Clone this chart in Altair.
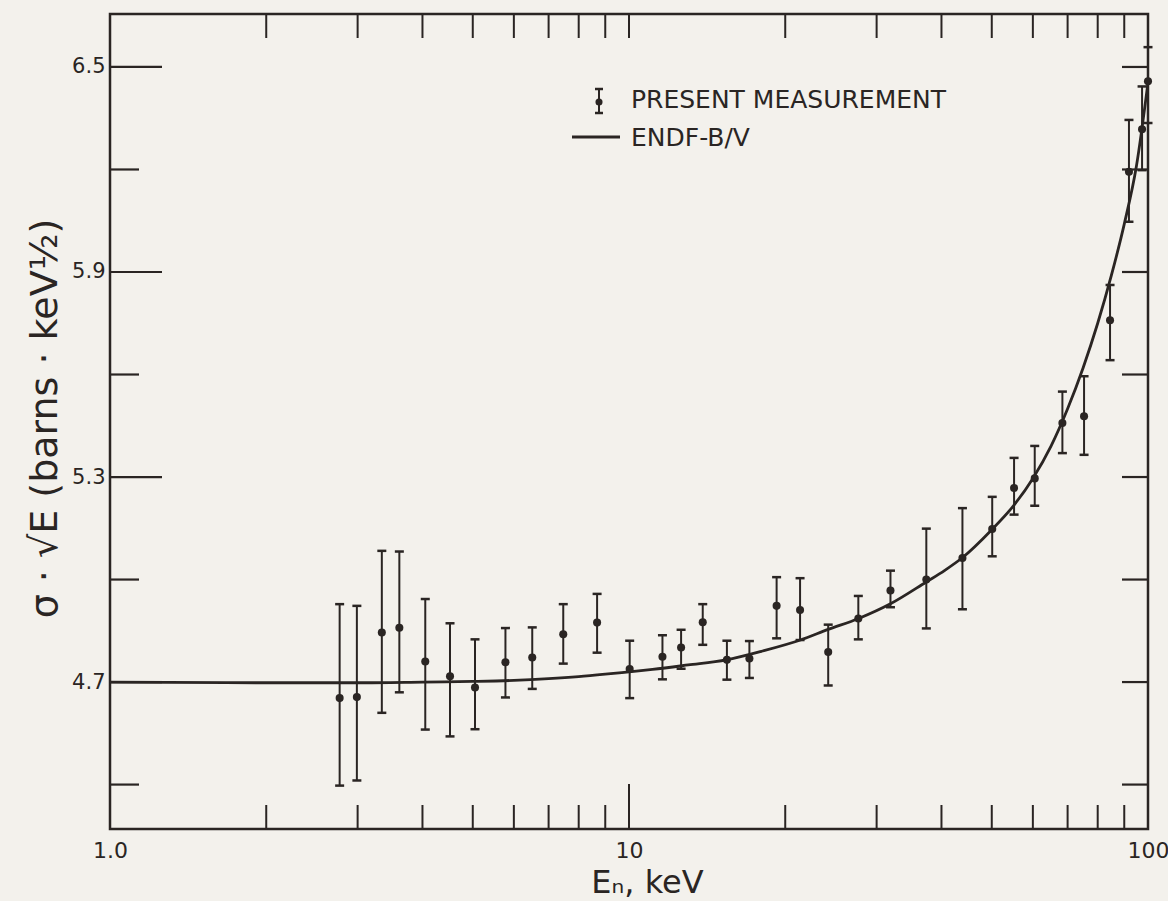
import altair as alt
import pandas as pd

# ---------------- data ----------------
meas_E = [2.77, 2.99, 3.34, 3.61, 4.05, 4.52, 5.05, 5.78, 6.51, 7.47, 8.68, 10.03,
          11.6, 12.6, 13.87, 15.44, 17.06, 19.25, 21.36, 24.2, 27.66, 31.9, 37.4,
          43.9, 50.1, 55.2, 60.5, 68.4, 75.3, 84.5, 91.9, 97.4, 100]
meas_v = [4.653, 4.656, 4.845, 4.859, 4.760, 4.717, 4.684, 4.758, 4.772, 4.840, 4.874, 4.738,
          4.774, 4.801, 4.875, 4.765, 4.769, 4.923, 4.911, 4.788, 4.886, 4.968, 5.000,
          5.063, 5.148, 5.268, 5.296, 5.458, 5.478, 5.759, 6.193, 6.318, 6.458]
meas_lo = [4.397, 4.412, 4.610, 4.670, 4.561, 4.541, 4.562, 4.655, 4.680, 4.754, 4.786, 4.653,
           4.708, 4.739, 4.809, 4.707, 4.712, 4.828, 4.823, 4.690, 4.825, 4.919, 4.857,
           4.913, 5.068, 5.190, 5.216, 5.370, 5.365, 5.642, 6.047, 6.198, 6.336]
meas_hi = [4.928, 4.923, 5.084, 5.082, 4.943, 4.872, 4.825, 4.858, 4.860, 4.928, 4.958, 4.821,
           4.837, 4.853, 4.928, 4.821, 4.820, 5.007, 5.004, 4.868, 4.952, 5.026, 5.149,
           5.209, 5.242, 5.356, 5.391, 5.550, 5.595, 5.862, 6.345, 6.443, 6.558]

endf_E = [1, 2, 3, 4, 5, 6, 7, 8, 9, 10, 11.1, 13, 15.4, 18, 21.4, 24.2, 27.7, 31.9,
          37.4, 40.6, 43.8, 50, 55, 60, 65, 70, 75, 80, 85, 90, 95, 100]
endf_v = [4.700, 4.698, 4.698, 4.700, 4.702, 4.705, 4.710, 4.716, 4.723, 4.730, 4.737, 4.750,
          4.765, 4.790, 4.823, 4.854, 4.886, 4.929, 4.993, 5.027, 5.063, 5.146, 5.215,
          5.296, 5.390, 5.500, 5.620, 5.750, 5.890, 6.040, 6.210, 6.455]

x_label_vals = [1, 10, 100]
x_minor_ticks = [2, 3, 4, 5, 6, 7, 8, 9, 20, 30, 40, 50, 60, 70, 80, 90]
x_top_ticks = [2, 3, 4, 5, 6, 7, 8, 9, 10, 20, 30, 40, 50, 60, 70, 80, 90]
x_major_ticks = [10]
y_label_vals = [4.7, 5.3, 5.9, 6.5]
y_minor_ticks = [4.4, 5.0, 5.6, 6.2]
y_all_ticks = [4.4, 4.7, 5.0, 5.3, 5.6, 5.9, 6.2, 6.5]

legend_labels = ["PRESENT MEASUREMENT", "ENDF-B/V"]
x_title = "Eₙ, keV"
y_title = "σ · √E (barns · keV½)"

# ---------------- style ----------------
W, H = 1038, 815
INK = "#2a2523"
BG = "#f3f1ec"
FONT = "DejaVu Sans"

xscale = alt.Scale(type="log", domain=[1, 100], nice=False)
yscale = alt.Scale(domain=[4.27, 6.655], nice=False, zero=False)

meas = pd.DataFrame({"E": meas_E, "v": meas_v, "lo": meas_lo, "hi": meas_hi})
endf = pd.DataFrame({"E": endf_E, "v": endf_v})

x_axis = alt.Axis(values=x_label_vals, labelExpr="datum.value < 2 ? '1.0' : format(datum.value, 'd')",
                  ticks=False, domain=False, grid=False, labelFontSize=22, labelPadding=11,
                  labelColor=INK, labelFont=FONT, labelFlush=False, labelOverlap=False,
                  title=x_title, titleFontSize=32, titleFont=FONT, titleFontWeight="normal",
                  titleColor=INK, titleX=537, titleY=63, titleAlign="center",
                  titleBaseline="alphabetic")
y_axis = alt.Axis(values=y_label_vals, format=".1f", ticks=False, domain=False, grid=False,
                  labelFontSize=21, labelPadding=5, labelColor=INK, labelFont=FONT,
                  title=y_title, titleFontSize=38, titleFont=FONT, titleFontWeight="normal",
                  titleColor=INK, titleX=-54, titleY=404, titleAlign="center",
                  titleAngle=270, titleBaseline="alphabetic")

X = lambda f: alt.X(f, scale=xscale, axis=x_axis)
Y = lambda f: alt.Y(f, scale=yscale, axis=y_axis)

curve = alt.Chart(endf).mark_line(color=INK, strokeWidth=2.8, interpolate="monotone").encode(
    x=X("E:Q"), y=Y("v:Q"))

bars = alt.Chart(meas).mark_rule(color=INK, strokeWidth=2, opacity=1).encode(
    x=X("E:Q"), y=Y("lo:Q"), y2="hi:Q")
cap_lo = alt.Chart(meas).mark_tick(color=INK, orient="horizontal", size=9, thickness=2.5,
                                   opacity=1).encode(x=X("E:Q"), y=Y("lo:Q"))
cap_hi = alt.Chart(meas).mark_tick(color=INK, orient="horizontal", size=9, thickness=2.5,
                                   opacity=1).encode(x=X("E:Q"), y=Y("hi:Q"))
pts = alt.Chart(meas).mark_point(color=INK, filled=True, shape="circle", size=65,
                                 opacity=1).encode(x=X("E:Q"), y=Y("v:Q"))

# frame ticks (inward)
def xticks(vals, y0, y1):
    return alt.Chart(pd.DataFrame({"E": vals})).mark_rule(color=INK, strokeWidth=2).encode(
        x=X("E:Q"), y=alt.value(y0), y2=alt.value(y1))

def yticks(vals, x0, x1):
    return alt.Chart(pd.DataFrame({"v": vals})).mark_rule(color=INK, strokeWidth=2.2).encode(
        y=Y("v:Q"), x=alt.value(x0), x2=alt.value(x1))

tick_layers = [
    xticks(x_minor_ticks, H, H - 24),
    xticks(x_major_ticks, H, H - 45),
    xticks(x_top_ticks, 0, 24),
    yticks(y_label_vals, 0, 52),
    yticks(y_minor_ticks, 0, 29),
    yticks(y_all_ticks, W, W - 26),
]

# legend
one = pd.DataFrame({"k": [0]})
leg_text1 = alt.Chart(one).mark_text(align="left", baseline="middle", fontSize=25, font=FONT,
                                     color=INK).encode(
    x=alt.value(521), y=alt.value(86), text=alt.value(legend_labels[0]))
leg_text2 = alt.Chart(one).mark_text(align="left", baseline="middle", fontSize=25, font=FONT,
                                     color=INK).encode(
    x=alt.value(521), y=alt.value(124), text=alt.value(legend_labels[1]))
leg_bar = alt.Chart(one).mark_rule(color=INK, strokeWidth=2).encode(
    x=alt.value(489), y=alt.value(75), y2=alt.value(99))
leg_cap1 = alt.Chart(one).mark_rule(color=INK, strokeWidth=2.5).encode(
    x=alt.value(485), x2=alt.value(493), y=alt.value(75))
leg_cap2 = alt.Chart(one).mark_rule(color=INK, strokeWidth=2.5).encode(
    x=alt.value(485), x2=alt.value(493), y=alt.value(99))
leg_pt = alt.Chart(one).mark_point(color=INK, filled=True, shape="circle", size=50, opacity=1).encode(
    x=alt.value(489), y=alt.value(88))
leg_line = alt.Chart(one).mark_rule(color=INK, strokeWidth=2.8).encode(
    x=alt.value(462), x2=alt.value(510), y=alt.value(123))

chart = alt.layer(
    curve, bars, cap_lo, cap_hi, pts, *tick_layers,
    leg_text1, leg_text2, leg_bar, leg_cap1, leg_cap2, leg_pt, leg_line,
).properties(
    width=W, height=H,
    padding={"left": 110, "top": 14, "right": 20, "bottom": 72},
    autosize=alt.AutoSizeParams(type="none"),
    background=BG,
).configure_view(stroke=INK, strokeWidth=2.5)

chart.save("out.html", embed_options={"renderer": "svg", "actions": False})
